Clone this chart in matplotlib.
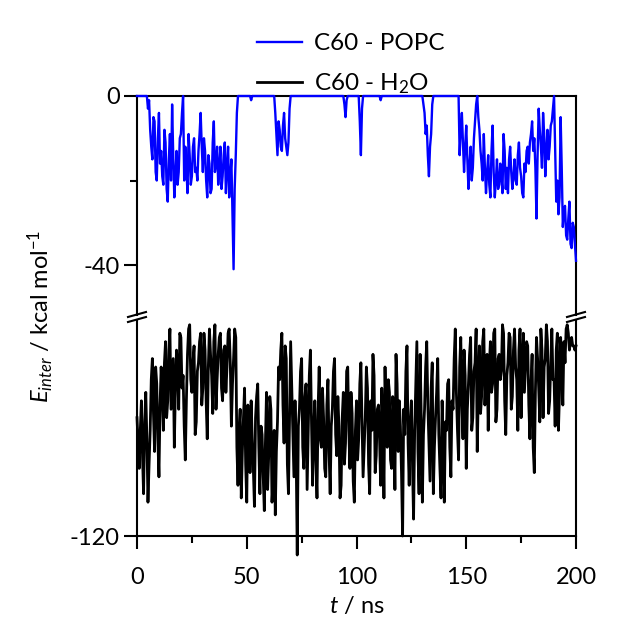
import numpy as np
import matplotlib
matplotlib.use("Agg")
import matplotlib.pyplot as plt
from matplotlib.lines import Line2D
from matplotlib.ticker import MultipleLocator, FixedLocator

# ---- data (kcal/mol, sampled each 0.5 ns) ----
t_ns = [i * 0.5 for i in range(401)]

popc = [
    0, 0, 0, 0, 0, 0, 0, 0, 0, 0, -3, -1, -8, -12, -15, -5, -6, -18, -20, -10,
    -4, -16, -13, -19, -21, -8, -11, -22, -25, -15, -9, -20, -2, -14, -24, -19, -13, -21, -18, -10,
    -9, -4, 0, -20, -12, -17, -23, -9, -14, -21, -19, -12, -10, -18, -17, -20, -13, -9, -4, -12,
    -18, -10, -13, -20, -24, -14, -16, -23, -22, -11, -6, -18, -16, -12, -21, -17, -12, -22, -19, -14,
    -11, -23, -17, -12, -24, -19, -15, -28, -41, -22, -14, -4, 0, 0, 0, 0, 0, 0, 0, 0,
    0, 0, 0, 0, -1, 0, 0, 0, 0, 0, 0, 0, 0, 0, 0, 0, 0, 0, 0, 0,
    0, 0, 0, 0, 0, 0, -4, -9, -14, -6, -8, -12, -13, -7, -4, -10, -12, -14, -11, -3,
    0, 0, 0, 0, 0, 0, 0, 0, 0, 0, 0, 0, 0, 0, 0, 0, 0, 0, 0, 0,
    0, 0, 0, 0, 0, 0, 0, 0, 0, 0, 0, 0, 0, 0, 0, 0, 0, 0, 0, 0,
    0, 0, 0, 0, 0, 0, 0, 0, 0, -2, -5, -1, 0, 0, 0, 0, 0, 0, 0, 0,
    0, 0, 0, -6, -14, -3, 0, 0, 0, 0, 0, 0, 0, 0, 0, 0, 0, 0, 0, 0,
    0, 0, -1, 0, 0, 0, 0, 0, 0, 0, 0, 0, 0, 0, 0, 0, 0, 0, 0, 0,
    0, 0, 0, 0, 0, 0, 0, 0, 0, 0, 0, 0, 0, 0, 0, 0, 0, 0, 0, 0,
    0, -2, -4, -9, -7, -14, -19, -12, -9, -2, 0, 0, 0, 0, 0, 0, 0, 0, 0, 0,
    0, 0, 0, 0, 0, 0, 0, 0, 0, 0, 0, 0, 0, 0, -14, -8, -4, -11, -18, -12,
    -7, -15, -22, -16, -12, -20, -17, -10, -6, -2, 0, -5, -8, -13, -16, -20, -9, -17, -23, -18,
    -14, -21, -24, -13, -7, -18, -24, -20, -15, -22, -21, -16, -19, -23, -9, -13, -22, -17, -23, -15,
    -12, -18, -22, -19, -15, -20, -21, -14, -11, -17, -19, -23, -24, -16, -18, -13, -12, -16, -11, -9,
    -6, -13, -10, -17, -29, -14, -3, -8, -12, -17, -4, -9, -19, -13, -8, -15, -12, -7, -6, -3,
    0, -12, -25, -20, -28, -24, -5, -17, -31, -27, -26, -33, -34, -29, -25, -35, -36, -30, -31, -35,
    -39,
]

water = [
    -92, -98, -104, -95, -88, -101, -110, -93, -86, -97, -112, -103, -95, -83, -78, -91, -100, -80, -84, -97,
    -106, -89, -80, -86, -95, -79, -74, -92, -88, -76, -71, -90, -84, -78, -99, -85, -76, -81, -90, -72,
    -73, -85, -82, -94, -102, -88, -77, -71, -70, -83, -86, -79, -75, -96, -93, -81, -79, -74, -72, -89,
    -85, -72, -76, -88, -97, -80, -71, -77, -82, -91, -74, -70, -90, -83, -77, -73, -72, -85, -88, -76,
    -75, -86, -80, -72, -71, -79, -94, -84, -78, -71, -73, -99, -108, -95, -90, -111, -100, -92, -85, -103,
    -112, -89, -95, -105, -88, -97, -104, -113, -92, -87, -84, -99, -110, -94, -96, -106, -114, -98, -86, -109,
    -101, -87, -90, -112, -107, -95, -115, -100, -93, -80, -83, -76, -72, -89, -98, -75, -78, -103, -110, -92,
    -74, -85, -96, -106, -88, -100, -124.5, -94, -90, -81, -78, -99, -104, -87, -84, -109, -96, -82, -76, -93,
    -108, -95, -88, -102, -111, -90, -80, -97, -99, -85, -92, -104, -106, -89, -83, -100, -110, -94, -90, -81,
    -78, -96, -101, -87, -94, -111, -108, -92, -86, -103, -98, -81, -80, -95, -104, -86, -91, -107, -112, -95,
    -88, -102, -97, -84, -79, -93, -106, -99, -92, -80, -85, -103, -110, -88, -95, -77, -82, -105, -101, -90,
    -89, -97, -108, -85, -93, -111, -80, -94, -99, -83, -86, -102, -104, -87, -91, -109, -77, -84, -100, -88,
    -94, -105, -120, -90, -96, -81, -75, -98, -108, -93, -88, -103, -116, -95, -84, -74, -100, -110, -77, -92,
    -112, -96, -90, -80, -74, -89, -98, -107, -85, -79, -110, -99, -92, -86, -78, -96, -104, -111, -88, -97,
    -112, -93, -95, -84, -83, -99, -106, -88, -90, -78, -71, -86, -95, -102, -80, -73, -88, -97, -76, -82,
    -104, -90, -84, -77, -73, -95, -92, -81, -79, -71, -100, -86, -75, -91, -87, -74, -71, -89, -82, -77,
    -95, -80, -74, -86, -84, -72, -71, -93, -90, -78, -77, -83, -81, -70, -72, -88, -96, -82, -79, -72,
    -73, -90, -87, -76, -71, -80, -83, -95, -76, -71, -92, -81, -72, -86, -80, -74, -75, -89, -97, -84,
    -77, -99, -105, -86, -73, -78, -85, -93, -71, -76, -92, -80, -78, -70, -74, -91, -88, -79, -71, -83,
    -83, -94, -76, -72, -95, -86, -73, -80, -89, -74, -79, -71, -70, -72, -76, -74, -73, -75, -75, -76,
    -75,
]

labels = ["C60 - POPC", "C60 - H$_\\mathregular{2}$O"]
x_ticks = [0, 50, 100, 150, 200]
top_ticks = [0, -40]
bottom_ticks = [-120]

# ---- style ----
plt.rcParams["font.family"] = ["Lato", "DejaVu Sans"]
plt.rcParams["mathtext.fontset"] = "custom"
plt.rcParams["mathtext.rm"] = "Lato"
plt.rcParams["mathtext.it"] = "Lato:italic"
plt.rcParams["axes.unicode_minus"] = False
FS = 17
LW_AX = 1.5

fig = plt.figure(figsize=(6.26, 6.22), dpi=100)
W, H = 626.0, 622.0
x0, x1 = 137 / W, 576 / W
y_top = 1 - 96 / H
y_brk_hi = 1 - 314.5 / H
y_brk_lo = 1 - 319.5 / H
y_bot = 1 - 536 / H

ax_t = fig.add_axes([x0, y_brk_hi, x1 - x0, y_top - y_brk_hi])
ax_b = fig.add_axes([x0, y_bot, x1 - x0, y_brk_lo - y_bot], sharex=ax_t)

px_per_unit = 4.225
ax_t.set_ylim(-(314.5 - 96) / px_per_unit, 0)
ax_b.set_ylim(-120, -120 + (536 - 319.5) / px_per_unit)
ax_t.set_xlim(0, 200)

l1, = ax_t.plot(t_ns, popc, color="#0000ff", lw=1.7, clip_on=False, zorder=3)
l2, = ax_b.plot(t_ns, water, color="black", lw=2.0, clip_on=False, zorder=3)

for ax in (ax_t, ax_b):
    for s in ax.spines.values():
        s.set_linewidth(LW_AX)
ax_t.spines["bottom"].set_visible(False)
ax_b.spines["top"].set_visible(False)

ax_t.yaxis.set_major_locator(FixedLocator(top_ticks))
ax_t.yaxis.set_minor_locator(FixedLocator([-20]))
ax_b.yaxis.set_major_locator(FixedLocator(bottom_ticks))
ax_b.xaxis.set_major_locator(FixedLocator(x_ticks))
ax_b.xaxis.set_minor_locator(MultipleLocator(25))

ax_t.tick_params(axis="x", which="both", bottom=False, top=False, labelbottom=False)
for ax in (ax_t, ax_b):
    ax.tick_params(axis="y", which="major", direction="out", length=9.5, width=LW_AX,
                   labelsize=FS, right=False, pad=3)
    ax.tick_params(axis="y", which="minor", direction="out", length=5, width=LW_AX, right=False)
ax_b.tick_params(axis="x", which="major", direction="out", length=9.5, width=LW_AX,
                 labelsize=FS, top=False, pad=13)
ax_b.tick_params(axis="x", which="minor", direction="out", length=5, width=LW_AX, top=False)

ax_b.set_xlabel("$t$ / ns", fontsize=FS, labelpad=5)
fig.text(41 / W, 1 - 316 / H, "$E_{inter}$ / kcal mol$^{\\mathregular{-1}}$",
         rotation=90, ha="center", va="center", fontsize=FS)

# axis break marks
for xc in (137, 576):
    for yc in (314.5, 319.5):
        fig.add_artist(Line2D([(xc - 9) / W, (xc + 9) / W],
                              [1 - (yc + 2.5) / H, 1 - (yc - 2.5) / H],
                              color="black", lw=LW_AX, transform=fig.transFigure))

fig.legend([l1, l2], labels, loc="upper left", bbox_to_anchor=(257 / W, 1 - 33 / H),
           frameon=False, fontsize=17.5, handlelength=1.85, handletextpad=0.5,
           labelspacing=0.7, borderaxespad=0, borderpad=0)

fig.savefig("out.png", dpi=100)
